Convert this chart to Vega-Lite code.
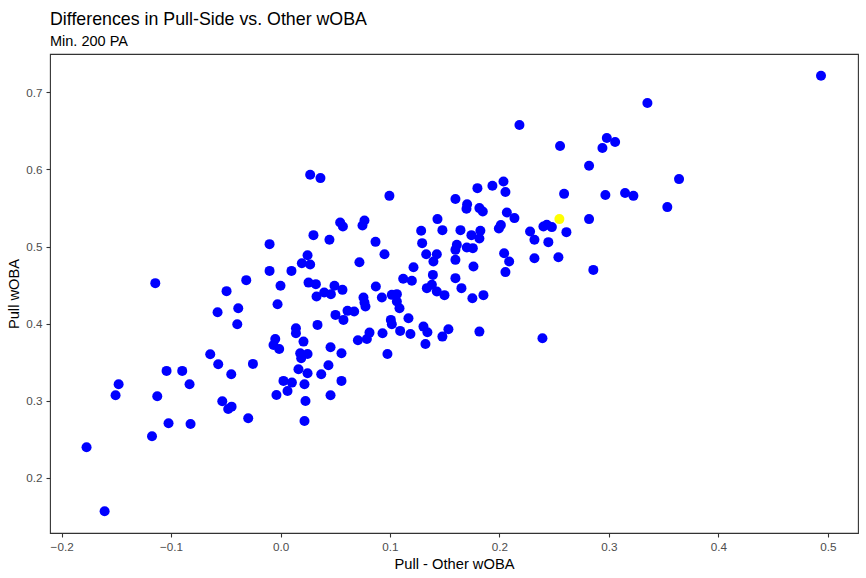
{
  "$schema": "https://vega.github.io/schema/vega-lite/v6.json",
  "autosize": {"type": "none"},
  "padding": {"left": 50, "top": 54, "right": 8, "bottom": 45},
  "width": 808,
  "height": 479,
  "background": "white",
  "config": {
    "font": "Liberation Sans",
    "view": {"stroke": "#333333", "strokeWidth": 1.1},
    "axis": {
      "grid": false,
      "domain": false,
      "tickColor": "#333333",
      "tickSize": 4,
      "tickWidth": 1.1,
      "labelColor": "#4D4D4D",
      "labelFontSize": 11.7,
      "labelFont": "Liberation Sans",
      "titleFont": "Liberation Sans",
      "titleFontSize": 14.7,
      "titleFontWeight": "normal",
      "titleColor": "#000000"
    }
  },
  "title": {
    "text": "Differences in Pull-Side vs. Other wOBA",
    "subtitle": "Min. 200 PA",
    "anchor": "start",
    "frame": "group",
    "font": "Liberation Sans",
    "fontSize": 17.8,
    "fontWeight": "normal",
    "color": "#000000",
    "subtitleFont": "Liberation Sans",
    "subtitleFontSize": 14.5,
    "subtitleColor": "#000000",
    "subtitlePadding": 6,
    "offset": 6
  },
  "data": {
    "values": [
      {"diff": -0.1144, "pull": 0.4525, "group": "other"},
      {"diff": -0.0313, "pull": 0.4564, "group": "other"},
      {"diff": -0.0493, "pull": 0.4421, "group": "other"},
      {"diff": -0.0575, "pull": 0.4148, "group": "other"},
      {"diff": -0.0386, "pull": 0.42, "group": "other"},
      {"diff": -0.0395, "pull": 0.3992, "group": "other"},
      {"diff": -0.0642, "pull": 0.3603, "group": "other"},
      {"diff": -0.0569, "pull": 0.3473, "group": "other"},
      {"diff": -0.045, "pull": 0.3343, "group": "other"},
      {"diff": -0.1041, "pull": 0.3386, "group": "other"},
      {"diff": -0.0898, "pull": 0.3386, "group": "other"},
      {"diff": -0.0831, "pull": 0.3213, "group": "other"},
      {"diff": -0.1479, "pull": 0.3213, "group": "other"},
      {"diff": -0.1507, "pull": 0.307, "group": "other"},
      {"diff": -0.1126, "pull": 0.3057, "group": "other"},
      {"diff": -0.0532, "pull": 0.2992, "group": "other"},
      {"diff": -0.0478, "pull": 0.2892, "group": "other"},
      {"diff": -0.0447, "pull": 0.2922, "group": "other"},
      {"diff": -0.0295, "pull": 0.2771, "group": "other"},
      {"diff": -0.1023, "pull": 0.2706, "group": "other"},
      {"diff": -0.0822, "pull": 0.2697, "group": "other"},
      {"diff": -0.1174, "pull": 0.2538, "group": "other"},
      {"diff": -0.1772, "pull": 0.2395, "group": "other"},
      {"diff": -0.1607, "pull": 0.1564, "group": "other"},
      {"diff": -0.0252, "pull": 0.3477, "group": "other"},
      {"diff": 0.0271, "pull": 0.5931, "group": "other"},
      {"diff": 0.0365, "pull": 0.5888, "group": "other"},
      {"diff": 0.0995, "pull": 0.5658, "group": "other"},
      {"diff": 0.0545, "pull": 0.5312, "group": "other"},
      {"diff": 0.057, "pull": 0.526, "group": "other"},
      {"diff": 0.0767, "pull": 0.5338, "group": "other"},
      {"diff": 0.0749, "pull": 0.5273, "group": "other"},
      {"diff": 0.0301, "pull": 0.5148, "group": "other"},
      {"diff": 0.0447, "pull": 0.5087, "group": "other"},
      {"diff": -0.01, "pull": 0.5031, "group": "other"},
      {"diff": 0.0868, "pull": 0.5061, "group": "other"},
      {"diff": 0.095, "pull": 0.4901, "group": "other"},
      {"diff": 0.1285, "pull": 0.5204, "group": "other"},
      {"diff": 0.1294, "pull": 0.5044, "group": "other"},
      {"diff": 0.0247, "pull": 0.4888, "group": "other"},
      {"diff": 0.0195, "pull": 0.4784, "group": "other"},
      {"diff": 0.0271, "pull": 0.4766, "group": "other"},
      {"diff": -0.01, "pull": 0.4684, "group": "other"},
      {"diff": 0.01, "pull": 0.4684, "group": "other"},
      {"diff": 0.0721, "pull": 0.4797, "group": "other"},
      {"diff": 0.1331, "pull": 0.4901, "group": "other"},
      {"diff": 0.1397, "pull": 0.4805, "group": "other"},
      {"diff": 0.1215, "pull": 0.4732, "group": "other"},
      {"diff": 0.0, "pull": 0.449, "group": "other"},
      {"diff": 0.0256, "pull": 0.4532, "group": "other"},
      {"diff": 0.0323, "pull": 0.4512, "group": "other"},
      {"diff": 0.0329, "pull": 0.4351, "group": "other"},
      {"diff": 0.0399, "pull": 0.4403, "group": "other"},
      {"diff": 0.046, "pull": 0.4382, "group": "other"},
      {"diff": 0.0493, "pull": 0.449, "group": "other"},
      {"diff": 0.0566, "pull": 0.4438, "group": "other"},
      {"diff": -0.0027, "pull": 0.4252, "group": "other"},
      {"diff": 0.0871, "pull": 0.4481, "group": "other"},
      {"diff": 0.0758, "pull": 0.4338, "group": "other"},
      {"diff": 0.0767, "pull": 0.4273, "group": "other"},
      {"diff": 0.0776, "pull": 0.4221, "group": "other"},
      {"diff": 0.0926, "pull": 0.4338, "group": "other"},
      {"diff": 0.1017, "pull": 0.4373, "group": "other"},
      {"diff": 0.1063, "pull": 0.4382, "group": "other"},
      {"diff": 0.1063, "pull": 0.4286, "group": "other"},
      {"diff": 0.1087, "pull": 0.42, "group": "other"},
      {"diff": 0.1121, "pull": 0.4581, "group": "other"},
      {"diff": 0.12, "pull": 0.4555, "group": "other"},
      {"diff": 0.1337, "pull": 0.446, "group": "other"},
      {"diff": 0.1392, "pull": 0.4632, "group": "other"},
      {"diff": 0.1383, "pull": 0.4503, "group": "other"},
      {"diff": 0.0502, "pull": 0.4113, "group": "other"},
      {"diff": 0.0575, "pull": 0.4048, "group": "other"},
      {"diff": 0.0612, "pull": 0.4165, "group": "other"},
      {"diff": 0.0673, "pull": 0.4156, "group": "other"},
      {"diff": 0.0338, "pull": 0.3983, "group": "other"},
      {"diff": 0.0141, "pull": 0.394, "group": "other"},
      {"diff": 0.0141, "pull": 0.3875, "group": "other"},
      {"diff": 0.021, "pull": 0.3766, "group": "other"},
      {"diff": -0.0048, "pull": 0.3801, "group": "other"},
      {"diff": -0.0064, "pull": 0.3723, "group": "other"},
      {"diff": -0.0012, "pull": 0.3671, "group": "other"},
      {"diff": 0.018, "pull": 0.3616, "group": "other"},
      {"diff": 0.0247, "pull": 0.3606, "group": "other"},
      {"diff": 0.0189, "pull": 0.3551, "group": "other"},
      {"diff": 0.0457, "pull": 0.3694, "group": "other"},
      {"diff": 0.0557, "pull": 0.3616, "group": "other"},
      {"diff": 0.0164, "pull": 0.3408, "group": "other"},
      {"diff": 0.0247, "pull": 0.3356, "group": "other"},
      {"diff": 0.0438, "pull": 0.346, "group": "other"},
      {"diff": 0.0372, "pull": 0.3343, "group": "other"},
      {"diff": 0.0027, "pull": 0.3256, "group": "other"},
      {"diff": 0.0104, "pull": 0.3234, "group": "other"},
      {"diff": 0.0064, "pull": 0.3126, "group": "other"},
      {"diff": 0.0219, "pull": 0.3213, "group": "other"},
      {"diff": 0.0557, "pull": 0.3256, "group": "other"},
      {"diff": -0.0037, "pull": 0.3074, "group": "other"},
      {"diff": 0.0228, "pull": 0.2996, "group": "other"},
      {"diff": 0.0457, "pull": 0.307, "group": "other"},
      {"diff": 0.0219, "pull": 0.2736, "group": "other"},
      {"diff": 0.1008, "pull": 0.4048, "group": "other"},
      {"diff": 0.1017, "pull": 0.3992, "group": "other"},
      {"diff": 0.1169, "pull": 0.407, "group": "other"},
      {"diff": 0.0932, "pull": 0.3875, "group": "other"},
      {"diff": 0.0813, "pull": 0.3883, "group": "other"},
      {"diff": 0.0789, "pull": 0.3801, "group": "other"},
      {"diff": 0.0707, "pull": 0.3784, "group": "other"},
      {"diff": 0.1093, "pull": 0.3905, "group": "other"},
      {"diff": 0.1187, "pull": 0.3866, "group": "other"},
      {"diff": 0.1306, "pull": 0.3961, "group": "other"},
      {"diff": 0.1342, "pull": 0.3888, "group": "other"},
      {"diff": 0.1324, "pull": 0.3736, "group": "other"},
      {"diff": 0.0977, "pull": 0.3606, "group": "other"},
      {"diff": 0.2819, "pull": 0.6048, "group": "other"},
      {"diff": 0.1799, "pull": 0.5758, "group": "other"},
      {"diff": 0.1936, "pull": 0.5788, "group": "other"},
      {"diff": 0.2037, "pull": 0.5844, "group": "other"},
      {"diff": 0.2055, "pull": 0.5707, "group": "other"},
      {"diff": 0.1598, "pull": 0.5616, "group": "other"},
      {"diff": 0.1705, "pull": 0.555, "group": "other"},
      {"diff": 0.1699, "pull": 0.549, "group": "other"},
      {"diff": 0.1817, "pull": 0.5499, "group": "other"},
      {"diff": 0.1848, "pull": 0.5455, "group": "other"},
      {"diff": 0.2591, "pull": 0.5684, "group": "other"},
      {"diff": 0.2968, "pull": 0.5668, "group": "other"},
      {"diff": 0.3148, "pull": 0.5694, "group": "other"},
      {"diff": 0.1434, "pull": 0.5356, "group": "other"},
      {"diff": 0.1479, "pull": 0.5213, "group": "other"},
      {"diff": 0.1644, "pull": 0.5213, "group": "other"},
      {"diff": 0.1744, "pull": 0.5148, "group": "other"},
      {"diff": 0.1826, "pull": 0.5204, "group": "other"},
      {"diff": 0.1817, "pull": 0.5104, "group": "other"},
      {"diff": 0.2068, "pull": 0.5442, "group": "other"},
      {"diff": 0.2137, "pull": 0.5369, "group": "other"},
      {"diff": 0.1995, "pull": 0.5234, "group": "other"},
      {"diff": 0.2013, "pull": 0.5278, "group": "other"},
      {"diff": 0.2819, "pull": 0.5356, "group": "other"},
      {"diff": 0.228, "pull": 0.5195, "group": "other"},
      {"diff": 0.232, "pull": 0.5087, "group": "other"},
      {"diff": 0.2402, "pull": 0.526, "group": "other"},
      {"diff": 0.2433, "pull": 0.5282, "group": "other"},
      {"diff": 0.2479, "pull": 0.5252, "group": "other"},
      {"diff": 0.2612, "pull": 0.5187, "group": "other"},
      {"diff": 0.2447, "pull": 0.5057, "group": "other"},
      {"diff": 0.1428, "pull": 0.4901, "group": "other"},
      {"diff": 0.1598, "pull": 0.4957, "group": "other"},
      {"diff": 0.1598, "pull": 0.4827, "group": "other"},
      {"diff": 0.1611, "pull": 0.5022, "group": "other"},
      {"diff": 0.1702, "pull": 0.4987, "group": "other"},
      {"diff": 0.1757, "pull": 0.4979, "group": "other"},
      {"diff": 0.1763, "pull": 0.474, "group": "other"},
      {"diff": 0.2043, "pull": 0.4914, "group": "other"},
      {"diff": 0.2089, "pull": 0.4805, "group": "other"},
      {"diff": 0.2055, "pull": 0.4668, "group": "other"},
      {"diff": 0.232, "pull": 0.4849, "group": "other"},
      {"diff": 0.2539, "pull": 0.4862, "group": "other"},
      {"diff": 0.2858, "pull": 0.4697, "group": "other"},
      {"diff": 0.1598, "pull": 0.459, "group": "other"},
      {"diff": 0.1653, "pull": 0.446, "group": "other"},
      {"diff": 0.1753, "pull": 0.433, "group": "other"},
      {"diff": 0.1854, "pull": 0.4369, "group": "other"},
      {"diff": 0.1428, "pull": 0.4416, "group": "other"},
      {"diff": 0.1498, "pull": 0.4369, "group": "other"},
      {"diff": 0.1817, "pull": 0.3896, "group": "other"},
      {"diff": 0.2393, "pull": 0.381, "group": "other"},
      {"diff": 0.1534, "pull": 0.3927, "group": "other"},
      {"diff": 0.1479, "pull": 0.3831, "group": "other"},
      {"diff": 0.4938, "pull": 0.7217, "group": "other"},
      {"diff": 0.3352, "pull": 0.6862, "group": "other"},
      {"diff": 0.2183, "pull": 0.6577, "group": "other"},
      {"diff": 0.2554, "pull": 0.6304, "group": "other"},
      {"diff": 0.2981, "pull": 0.6408, "group": "other"},
      {"diff": 0.3057, "pull": 0.6356, "group": "other"},
      {"diff": 0.2941, "pull": 0.6278, "group": "other"},
      {"diff": 0.3641, "pull": 0.5875, "group": "other"},
      {"diff": 0.3224, "pull": 0.5658, "group": "other"},
      {"diff": 0.3534, "pull": 0.5512, "group": "other"},
      {"diff": 0.2548, "pull": 0.5356, "group": "highlight"}
    ]
  },
  "mark": {"type": "circle", "size": 100, "opacity": 1},
  "encoding": {
    "x": {
      "field": "diff",
      "type": "quantitative",
      "title": "Pull - Other wOBA",
      "scale": {"domain": [-0.2106, 0.5276], "nice": false, "zero": false},
      "axis": {"values": [-0.2, -0.1, 0.0, 0.1, 0.2, 0.3, 0.4, 0.5], "format": ".1f", "labelPadding": 4, "titlePadding": 4}
    },
    "y": {
      "field": "pull",
      "type": "quantitative",
      "title": "Pull wOBA",
      "scale": {"domain": [0.1282, 0.7499], "nice": false, "zero": false},
      "axis": {"values": [0.2, 0.3, 0.4, 0.5, 0.6, 0.7], "format": ".1f", "labelPadding": 4, "titlePadding": 4}
    },
    "color": {
      "field": "group",
      "type": "nominal",
      "scale": {"domain": ["other", "highlight"], "range": ["#0000FF", "#FFFF00"]},
      "legend": null
    }
  }
}
